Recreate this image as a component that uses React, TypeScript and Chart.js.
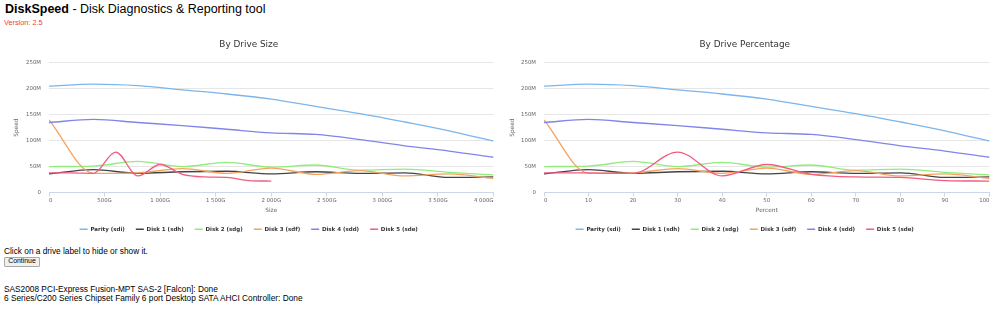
import { useEffect, useRef } from 'react';
import { Chart, registerables } from 'chart.js';

Chart.register(...registerables);

// Measurement points along each drive, in percent of its capacity
const percentSteps = [0, 10, 20, 30, 40, 50, 60, 70, 80, 90, 100];

const driveLabels = ['Parity (sdi)', 'Disk 1 (sdh)', 'Disk 2 (sdg)', 'Disk 3 (sdf)', 'Disk 4 (sdd)', 'Disk 5 (sde)'];
const driveSizesG = [4000, 4000, 4000, 4000, 4000, 2000];
const driveColors = ['#7cb5ec', '#434348', '#90ed7d', '#f7a35c', '#8085e9', '#f15c80'];

// Read speed (MB/s) at each percent step
const paritySpeed = [205, 209, 206, 198, 190, 180, 166, 152, 136, 119, 99];
const disk1Speed = [36, 44, 37, 40, 41, 36, 40, 37, 38, 29, 30];
const disk2Speed = [50, 51, 60, 50, 58, 49, 53, 43, 45, 39, 34];
const disk3Speed = [140, 37, 38, 46, 37, 47, 35, 42, 32, 36, 27];
const disk4Speed = [135, 141, 135, 129, 122, 115, 112, 102, 90, 80, 68];
const disk5Speed = [38, 38, 37, 78, 32, 54, 35, 30, 29, 23, 22];

const driveSpeeds = [paritySpeed, disk1Speed, disk2Speed, disk3Speed, disk4Speed, disk5Speed];

const speedTickValues = [0, 50, 100, 150, 200, 250];
const speedTickLabels = ['0', '50M', '100M', '150M', '200M', '250M'];
const sizeTickValues = [0, 500, 1000, 1500, 2000, 2500, 3000, 3500, 4000];
const sizeTickLabels = ['0', '500G', '1 000G', '1 500G', '2 000G', '2 500G', '3 000G', '3 500G', '4 000G'];
const percentTickValues = [0, 10, 20, 30, 40, 50, 60, 70, 80, 90, 100];
const percentTickLabels = ['0', '10', '20', '30', '40', '50', '60', '70', '80', '90', '100'];

Chart.defaults.font.family = '"DejaVu Sans", sans-serif';

type Kind = 'size' | 'percent';

function buildConfig(kind: Kind, yWidth: number): any {
  const isSize = kind === 'size';
  const datasets = driveLabels.map((label, d) => ({
    label,
    data: percentSteps.map((p, i) => ({
      x: isSize ? (driveSizesG[d] * p) / 100 : p,
      y: driveSpeeds[d][i],
    })),
    borderColor: driveColors[d],
    backgroundColor: driveColors[d],
    borderWidth: 1.3,
    pointRadius: 0,
    cubicInterpolationMode: 'monotone',
    fill: false,
    order: driveLabels.length - d,
  }));

  const xValues = isSize ? sizeTickValues : percentTickValues;
  const xLabels = isSize ? sizeTickLabels : percentTickLabels;

  return {
    type: 'line',
    data: { datasets },
    options: {
      animation: false,
      responsive: false,
      layout: { padding: { left: 0, right: 6.5, top: 0, bottom: 0 } },
      plugins: {
        title: {
          display: true,
          text: isSize ? 'By Drive Size' : 'By Drive Percentage',
          color: '#333333',
          font: { size: 8.9, weight: 'normal' },
          padding: { top: 7.5, bottom: 12.7 },
        },
        legend: {
          position: 'bottom',
          labels: {
            usePointStyle: true,
            pointStyle: 'line',
            pointStyleWidth: 8,
            boxHeight: 5.5,
            padding: 11,
            color: '#333333',
            font: { size: 5.5, weight: 'bold' },
            sort: (a: any, b: any) => a.datasetIndex - b.datasetIndex,
          },
        },
        tooltip: { enabled: false },
      },
      scales: {
        x: {
          type: 'linear',
          min: 0,
          max: isSize ? 4000 : 100,
          afterBuildTicks: (s: any) => {
            s.ticks = xValues.map((v) => ({ value: v }));
          },
          afterFit: (s: any) => {
            s.height = 23;
          },
          ticks: {
            color: '#666666',
            font: { size: 5.4 },
            padding: 0.5,
            maxRotation: 0,
            autoSkip: false,
            align: 'inner',
            callback: (v: number) => xLabels[xValues.indexOf(v)] ?? '',
          },
          grid: {
            drawOnChartArea: false,
            drawTicks: true,
            tickLength: 4,
            color: '#ccd6eb',
          },
          border: { display: true, color: '#ccd6eb' },
          title: {
            display: true,
            text: isSize ? 'Size' : 'Percent',
            color: '#666666',
            font: { size: 5.8 },
            padding: { top: 0, bottom: 1.5 },
          },
        },
        y: {
          type: 'linear',
          min: 0,
          max: 250,
          afterBuildTicks: (s: any) => {
            s.ticks = speedTickValues.map((v) => ({ value: v }));
          },
          afterFit: (s: any) => {
            s.width = yWidth;
          },
          ticks: {
            color: '#666666',
            font: { size: 5.4 },
            padding: 8,
            callback: (v: number) => speedTickLabels[speedTickValues.indexOf(v)] ?? '',
          },
          grid: { color: '#e6e6e6', drawTicks: false },
          border: { display: false },
          title: {
            display: true,
            text: 'Speed',
            color: '#666666',
            font: { size: 5.8 },
            padding: { top: 9.1, bottom: 0 },
          },
        },
      },
    },
  };
}

function SpeedChart({ kind, left, yWidth }: { kind: Kind; left: number; yWidth: number }) {
  const ref = useRef<HTMLCanvasElement>(null);
  useEffect(() => {
    const chart = new Chart(ref.current as HTMLCanvasElement, buildConfig(kind, yWidth));
    return () => chart.destroy();
  }, [kind, yWidth]);
  return (
    <canvas
      ref={ref}
      width={496}
      height={210}
      style={{ position: 'absolute', left, top: 32, width: 496, height: 210 }}
    />
  );
}

const pageFont = '"Liberation Sans", Arial, sans-serif';

export default function App() {
  return (
    <div
      style={{
        position: 'absolute',
        left: 0,
        top: 0,
        width: 1000,
        height: 312,
        background: '#ffffff',
        fontFamily: pageFont,
        color: '#000000',
        overflow: 'hidden',
      }}
    >
      <div style={{ position: 'absolute', left: 5, top: 2.7, fontSize: 12.5, lineHeight: 1, whiteSpace: 'nowrap' }}>
        <b>DiskSpeed</b> - Disk Diagnostics &amp; Reporting tool
      </div>
      <div style={{ position: 'absolute', left: 4, top: 18.7, fontSize: 7.3, lineHeight: 1, color: '#ee3b3b' }}>
        Version: 2.5
      </div>

      <SpeedChart kind="size" left={4} yWidth={45} />
      <SpeedChart kind="percent" left={500} yWidth={44} />

      <div style={{ position: 'absolute', left: 4, top: 247, fontSize: 8.3, lineHeight: 1, whiteSpace: 'nowrap' }}>
        Click on a drive label to hide or show it.
      </div>
      <button
        style={{
          position: 'absolute',
          left: 4,
          top: 256.7,
          width: 36,
          height: 10,
          padding: 0,
          fontSize: 6.9,
          lineHeight: 1,
          fontFamily: pageFont,
          background: '#f0f0f0',
          border: '1px solid #a9a9a9',
          borderRadius: 1,
          color: '#000000',
        }}
      >
        Continue
      </button>
      <div style={{ position: 'absolute', left: 4, top: 285.3, fontSize: 8.3, lineHeight: 1, whiteSpace: 'nowrap' }}>
        SAS2008 PCI-Express Fusion-MPT SAS-2 [Falcon]: Done
      </div>
      <div style={{ position: 'absolute', left: 4, top: 293.8, fontSize: 8.3, lineHeight: 1, whiteSpace: 'nowrap' }}>
        6 Series/C200 Series Chipset Family 6 port Desktop SATA AHCI Controller: Done
      </div>
    </div>
  );
}
